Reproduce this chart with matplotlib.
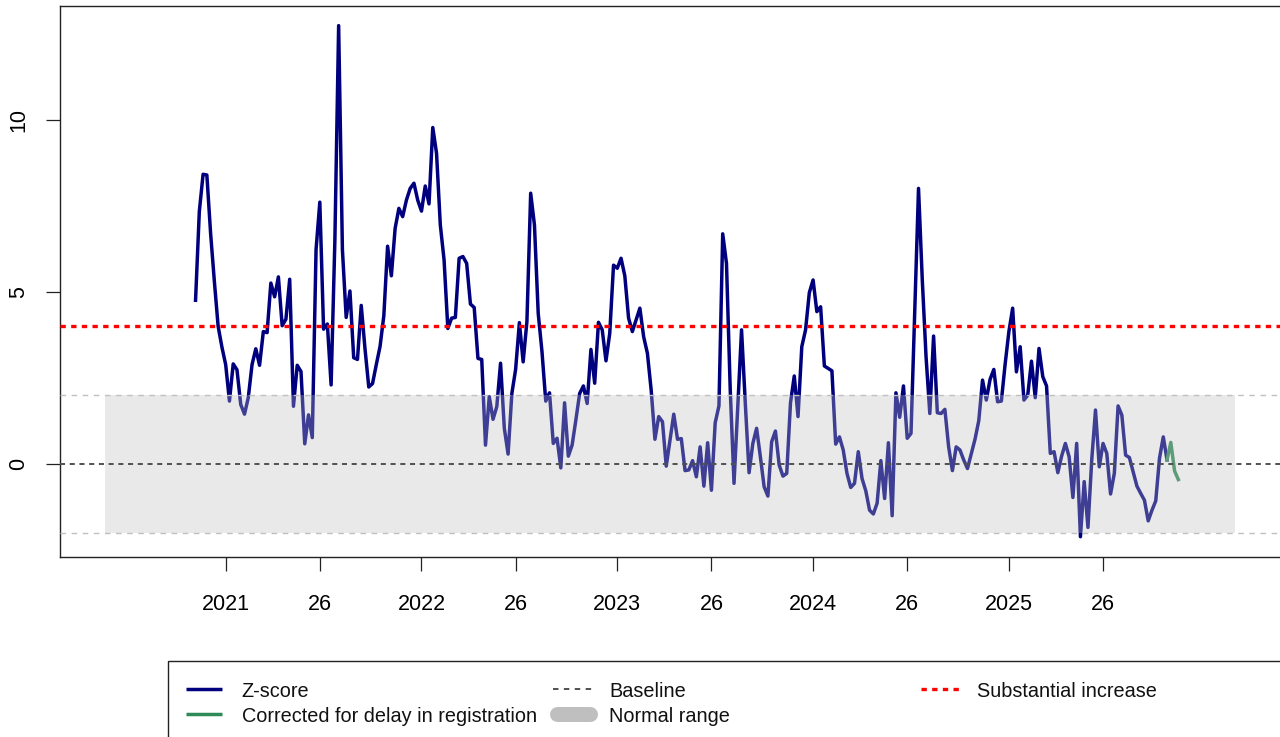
import numpy as np
import matplotlib
matplotlib.use("Agg")
import matplotlib.pyplot as plt
from matplotlib.lines import Line2D
from matplotlib.patches import Rectangle

plt.rcParams['font.family'] = ['Liberation Sans', 'DejaVu Sans']

# weekly z-scores, index 0 = 2021 week 1 (first value is 2020 week 46)
start_week = -8
zscore = [
    # 2020 w46-w53
    4.76, 7.34, 8.42, 8.40, 6.70, 5.30, 4.00, 3.40,
    # 2021
    2.89, 1.83, 2.91, 2.74, 1.73, 1.45, 1.93, 2.89, 3.35, 2.87,
    3.85, 3.82, 5.26, 4.86, 5.44, 4.02, 4.21, 5.37, 1.68, 2.87,
    2.69, 0.59, 1.43, 0.77, 6.23, 7.61, 3.92, 4.07, 2.30, 6.50,
    12.74, 6.23, 4.26, 5.03, 3.09, 3.04, 4.61, 3.35, 2.24, 2.34,
    2.89, 3.42, 4.31, 6.33, 5.47, 6.85, 7.43, 7.19, 7.67, 8.01,
    8.16, 7.67,
    # 2022
    7.35, 8.08, 7.56, 9.78, 9.03, 6.95, 5.93, 3.94, 4.24, 4.26,
    5.98, 6.03, 5.83, 4.65, 4.55, 3.07, 3.04, 0.55, 1.96, 1.30,
    1.67, 2.93, 1.04, 0.29, 2.05, 2.75, 4.11, 2.97, 4.14, 7.87,
    6.95, 4.38, 3.27, 1.83, 2.07, 0.60, 0.75, -0.11, 1.78, 0.23,
    0.55, 1.28, 2.05, 2.27, 1.76, 3.33, 2.35, 4.12, 3.90, 3.00,
    3.80, 5.78,
    # 2023
    5.69, 5.98, 5.47, 4.24, 3.85, 4.19, 4.53, 3.70, 3.22, 2.15,
    0.72, 1.38, 1.23, -0.06, 0.70, 1.45, 0.72, 0.74, -0.19, -0.17,
    0.10, -0.37, 0.50, -0.64, 0.62, -0.76, 1.20, 1.69, 6.69, 5.83,
    2.15, -0.56, 1.67, 3.90, 1.76, -0.25, 0.60, 1.04, 0.21, -0.66,
    -0.93, 0.65, 0.96, -0.03, -0.35, -0.27, 1.78, 2.56, 1.38, 3.41,
    3.90, 4.98,
    # 2024
    5.35, 4.43, 4.57, 2.85, 2.78, 2.71, 0.58, 0.79, 0.41, -0.27,
    -0.68, -0.56, 0.36, -0.42, -0.78, -1.34, -1.45, -1.14, 0.10, -1.00,
    0.62, -1.50, 2.07, 1.36, 2.27, 0.75, 0.89, 4.48, 8.01, 5.35,
    3.12, 1.47, 3.72, 1.49, 1.47, 1.59, 0.50, -0.19, 0.50, 0.41,
    0.12, -0.13, 0.29, 0.72, 1.26, 2.44, 1.86, 2.46, 2.75, 1.81,
    1.83, 2.90,
    # 2025
    3.85, 4.53, 2.68, 3.41, 1.86, 2.00, 2.99, 1.93, 3.36, 2.54,
    2.27, 0.31, 0.36, -0.25, 0.23, 0.60, 0.21, -0.97, 0.60, -2.11,
    -0.51, -1.84, 0.12, 1.57, -0.08, 0.60, 0.31, -0.87, -0.27, 1.69,
    1.42, 0.26, 0.19, -0.22, -0.64, -0.85, -1.05, -1.65, -1.34, -1.07,
    0.17, 0.79, 0.12,
]

# last weeks corrected for delay in registration
corrected_start = 250
corrected = [0.12, 0.63, -0.20, -0.45]

baseline = 0
substantial = 4
normal_low, normal_high = -2, 2
normal_span = [-32, 268]

tick_weeks = [0, 25, 52, 77, 104, 129, 156, 181, 208, 233]
tick_labels = ['2021', '26', '2022', '26', '2023', '26', '2024', '26', '2025', '26']

legend_labels = ['Z-score', 'Corrected for delay in registration',
                 'Baseline', 'Normal range', 'Substantial increase']

navy = '#00007f'
green = '#2e8b57'
band_grey = '#bfbfbf'

W, H = 1280, 737
fig = plt.figure(figsize=(W / 100, H / 100), dpi=100)
ax = fig.add_axes([60 / W, 1 - 557 / H, 1220 / W, 551 / H])

weeks = start_week + np.arange(len(zscore))
cweeks = corrected_start + np.arange(len(corrected))

ax.plot(weeks, zscore, color=navy, lw=2.5, zorder=2)
ax.plot(cweeks, corrected, color=green, lw=2.5, zorder=2)

ax.fill_between(normal_span, normal_low, normal_high, color=band_grey,
                alpha=0.33, lw=0, zorder=3)
for lvl in (normal_low, normal_high):
    ax.axhline(lvl, color='#c0c0c0', lw=1.0, ls=(0, (4, 4)), zorder=4)
ax.axhline(baseline, color='#505050', lw=1.4, ls=(0, (2.6, 2.4)), zorder=4)
ax.axhline(substantial, color='red', lw=2.4, ls=(0, (1.6, 1.6)), zorder=5)

ax.set_xlim(-44, 280)
ax.set_ylim(-2.70, 13.31)
ax.set_xticks(tick_weeks)
ax.set_xticklabels(tick_labels)
ax.set_yticks([0, 5, 10])
ax.tick_params(axis='both', direction='out', length=10, width=0.9, color='#222222')
ax.tick_params(axis='x', labelsize=15.5, pad=16.5)
ax.tick_params(axis='y', labelsize=15.5, pad=12)
for lab in ax.get_yticklabels():
    lab.set_rotation(90)
    lab.set_va('center')

ax.spines['right'].set_visible(False)
for s in ('left', 'top', 'bottom'):
    ax.spines[s].set_linewidth(1.0)
    ax.spines[s].set_color('#222222')

# legend box, runs off the right and bottom edge like the original
fx = lambda x: x / W
fy = lambda y: 1 - y / H
fig.add_artist(Rectangle((fx(168), -0.5), 2, fy(661) + 0.5, transform=fig.transFigure,
                         fill=False, lw=1.0, edgecolor='#222222'))

rows = [697, 722]
handles = [
    dict(x=(186, 222), row=0, color=navy, lw=2.5, ls='-'),
    dict(x=(186, 222), row=1, color=green, lw=2.5, ls='-'),
    dict(x=(553, 593), row=0, color='#505050', lw=1.4, ls=(0, (2.8, 2.8))),
    dict(x=(557, 590), row=1, color=band_grey, lw=10.8, ls='-'),
    dict(x=(921, 961), row=0, color='red', lw=2.4, ls=(0, (1.6, 1.6))),
]
text_x = [241.5, 241.5, 609, 609, 977]
for h, lab, tx in zip(handles, legend_labels, text_x):
    yc = rows[h['row']] - 8.5
    fig.add_artist(Line2D([fx(h['x'][0]), fx(h['x'][1])], [fy(yc), fy(yc)],
                          transform=fig.transFigure, color=h['color'], lw=h['lw'],
                          ls=h['ls'], solid_capstyle='round' if h['lw'] > 5 else 'butt'))
    fig.text(fx(tx), fy(rows[h['row']]), lab, fontsize=14.3, va='baseline', ha='left',
             color='#111111')

fig.savefig('out.png', dpi=100)
